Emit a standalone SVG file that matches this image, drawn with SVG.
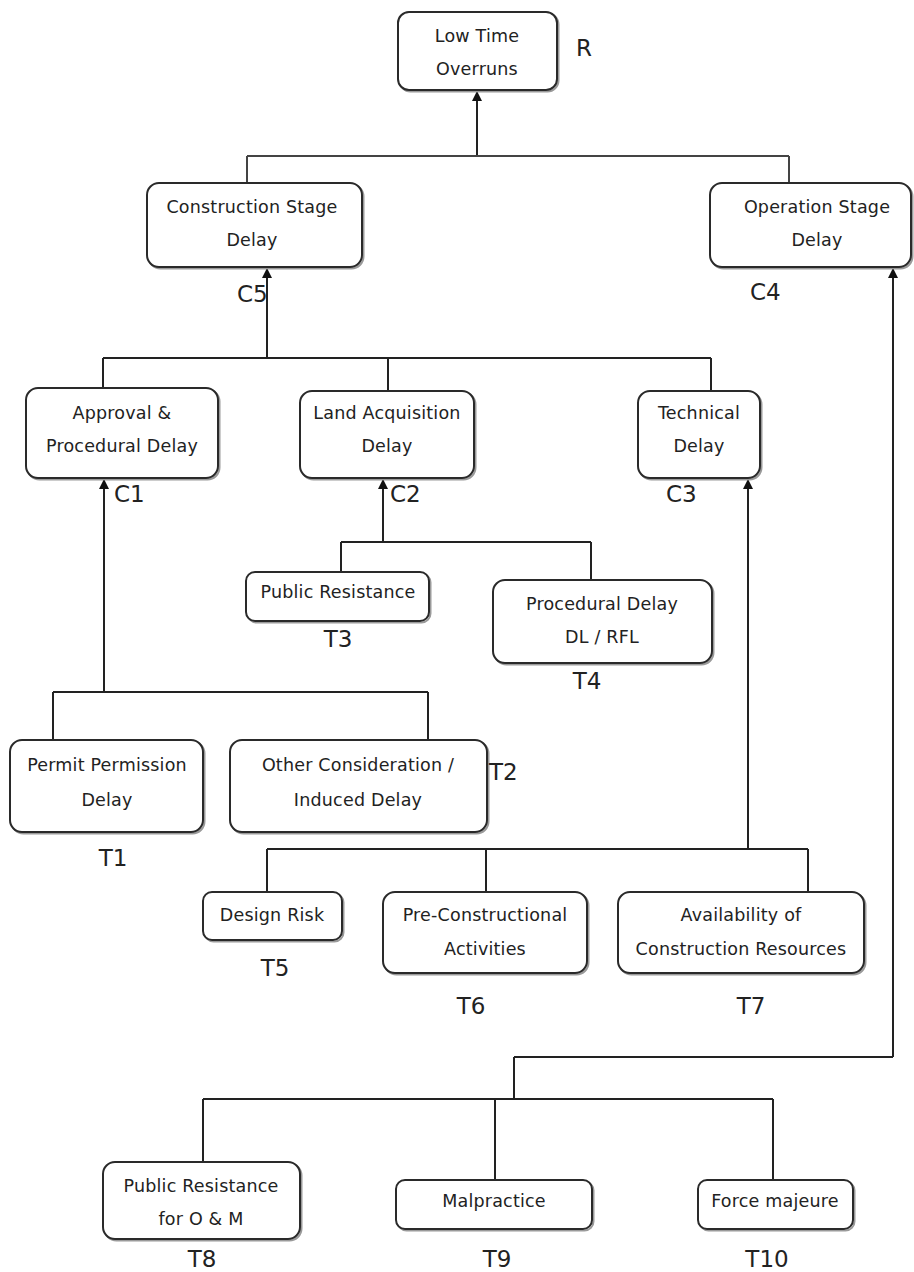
<svg xmlns="http://www.w3.org/2000/svg" width="914" height="1272" viewBox="0 0 914 1272">
  <style>
    .box { fill: #ffffff; stroke: #2a2a2a; stroke-width: 2; }
    .shadow { fill: none; stroke: #9a9a9a; stroke-width: 2; }
    .txt { font-family: "DejaVu Sans", Verdana, sans-serif; font-size: 17.5px; fill: #222; text-anchor: middle; letter-spacing: 0.2px; }
    .lbl { font-family: "DejaVu Sans", Verdana, sans-serif; font-size: 23px; fill: #222; }
    .lblc { font-family: "DejaVu Sans", Verdana, sans-serif; font-size: 23px; fill: #222; text-anchor: middle; }
    .ln { fill: none; stroke: #222; stroke-width: 2; }
    .arr { fill: none; stroke: #222; stroke-width: 2; marker-end: url(#head); }
  </style>
  <defs>
    <marker id="head" viewBox="0 0 10 10" refX="10" refY="5" markerWidth="6" markerHeight="5" orient="auto" markerUnits="strokeWidth">
      <path d="M0,0 L10,5 L0,10 z" fill="#111"/>
    </marker>
  </defs>
  <rect width="914" height="1272" fill="#ffffff"/>

  <!-- connectors -->
  <g id="connectors">
    <path class="arr" d="M477,156 V91"/>
    <path class="ln" d="M247,156 H789 M247,156 V183 M789,156 V183" stroke-width="3" style="stroke:#444"/>

    <path class="arr" d="M267,358 V268"/>
    <path class="ln" d="M103,358 H711 M103,358 V388 M388,358 V391 M711,358 V391"/>

    <path class="arr" d="M104,692 V479"/>
    <path class="ln" d="M53,692 H428 M53,692 V740 M428,692 V740"/>

    <path class="arr" d="M383,542 V479"/>
    <path class="ln" d="M341,542 H591 M341,542 V572 M591,542 V580"/>

    <path class="arr" d="M748,849 V479"/>
    <path class="ln" d="M267,849 H808 M267,849 V892 M486,849 V892 M808,849 V892"/>

    <path class="arr" d="M893,1057 V268"/>
    <path class="ln" d="M514,1057 H893 M514,1057 V1099 M203,1099 H773 M203,1099 V1162 M495,1099 V1180 M773,1099 V1180"/>
  </g>

  <!-- R -->
  <g id="node-R">
    <rect class="shadow" x="399.5" y="13.5" width="159" height="78" rx="11"/>
    <rect class="box" x="398" y="12" width="159" height="78" rx="11"/>
    <text class="txt" x="477" y="42">Low Time</text>
    <text class="txt" x="477" y="75">Overruns</text>
    <text class="lbl" x="576" y="56" font-size="20">R</text>
  </g>

  <!-- C5 -->
  <g id="node-C5">
    <rect class="shadow" x="148.5" y="184.5" width="215" height="84" rx="12"/>
    <rect class="box" x="147" y="183" width="215" height="84" rx="12"/>
    <text class="txt" x="252" y="213">Construction Stage</text>
    <text class="txt" x="252" y="246">Delay</text>
    <text class="lbl" x="237" y="302">C5</text>
  </g>

  <!-- C4 -->
  <g id="node-C4">
    <rect class="shadow" x="711.5" y="184.5" width="201" height="84" rx="12"/>
    <rect class="box" x="710" y="183" width="201" height="84" rx="12"/>
    <text class="txt" x="817" y="213">Operation Stage</text>
    <text class="txt" x="817" y="246">Delay</text>
    <text class="lbl" x="750" y="300">C4</text>
  </g>

  <!-- C1 -->
  <g id="node-C1">
    <rect class="shadow" x="27.5" y="389.5" width="192" height="90" rx="12"/>
    <rect class="box" x="26" y="388" width="192" height="90" rx="12"/>
    <text class="txt" x="122" y="419">Approval &amp;</text>
    <text class="txt" x="122" y="452">Procedural Delay</text>
    <text class="lbl" x="114" y="502">C1</text>
  </g>

  <!-- C2 -->
  <g id="node-C2">
    <rect class="shadow" x="301.5" y="392.5" width="174" height="87" rx="12"/>
    <rect class="box" x="300" y="391" width="174" height="87" rx="12"/>
    <text class="txt" x="387" y="419">Land Acquisition</text>
    <text class="txt" x="387" y="452">Delay</text>
    <text class="lbl" x="390" y="502">C2</text>
  </g>

  <!-- C3 -->
  <g id="node-C3">
    <rect class="shadow" x="639.5" y="392.5" width="122" height="87" rx="12"/>
    <rect class="box" x="638" y="391" width="122" height="87" rx="12"/>
    <text class="txt" x="699" y="419">Technical</text>
    <text class="txt" x="699" y="452">Delay</text>
    <text class="lbl" x="666" y="502">C3</text>
  </g>

  <!-- T3 -->
  <g id="node-T3">
    <rect class="shadow" x="247.5" y="573.5" width="183" height="49" rx="9"/>
    <rect class="box" x="246" y="572" width="183" height="49" rx="9"/>
    <text class="txt" x="338" y="598">Public Resistance</text>
    <text class="lblc" x="338" y="647">T3</text>
  </g>

  <!-- T4 -->
  <g id="node-T4">
    <rect class="shadow" x="494.5" y="581.5" width="219" height="83" rx="12"/>
    <rect class="box" x="493" y="580" width="219" height="83" rx="12"/>
    <text class="txt" x="602" y="610">Procedural Delay</text>
    <text class="txt" x="602" y="643">DL / RFL</text>
    <text class="lblc" x="587" y="689">T4</text>
  </g>

  <!-- T1 -->
  <g id="node-T1">
    <rect class="shadow" x="11.5" y="741.5" width="193" height="92" rx="12"/>
    <rect class="box" x="10" y="740" width="193" height="92" rx="12"/>
    <text class="txt" x="107" y="771">Permit Permission</text>
    <text class="txt" x="107" y="806">Delay</text>
    <text class="lblc" x="113" y="866">T1</text>
  </g>

  <!-- T2 -->
  <g id="node-T2">
    <rect class="shadow" x="231.5" y="741.5" width="257" height="92" rx="12"/>
    <rect class="box" x="230" y="740" width="257" height="92" rx="12"/>
    <text class="txt" x="358" y="771">Other Consideration  /</text>
    <text class="txt" x="358" y="806">Induced Delay</text>
    <text class="lbl" x="489" y="780">T2</text>
  </g>

  <!-- T5 -->
  <g id="node-T5">
    <rect class="shadow" x="204.5" y="893.5" width="139" height="48" rx="9"/>
    <rect class="box" x="203" y="892" width="139" height="48" rx="9"/>
    <text class="txt" x="272" y="921">Design Risk</text>
    <text class="lblc" x="275" y="976">T5</text>
  </g>

  <!-- T6 -->
  <g id="node-T6">
    <rect class="shadow" x="384.5" y="893.5" width="204" height="81" rx="12"/>
    <rect class="box" x="383" y="892" width="204" height="81" rx="12"/>
    <text class="txt" x="485" y="921">Pre-Constructional</text>
    <text class="txt" x="485" y="955">Activities</text>
    <text class="lblc" x="471" y="1014">T6</text>
  </g>

  <!-- T7 -->
  <g id="node-T7">
    <rect class="shadow" x="619.5" y="893.5" width="246" height="81" rx="12"/>
    <rect class="box" x="618" y="892" width="246" height="81" rx="12"/>
    <text class="txt" x="741" y="921">Availability  of</text>
    <text class="txt" x="741" y="955">Construction Resources</text>
    <text class="lblc" x="751" y="1014">T7</text>
  </g>

  <!-- T8 -->
  <g id="node-T8">
    <rect class="shadow" x="104.5" y="1163.5" width="197" height="77" rx="12"/>
    <rect class="box" x="103" y="1162" width="197" height="77" rx="12"/>
    <text class="txt" x="201" y="1192">Public Resistance</text>
    <text class="txt" x="201" y="1225">for O &amp; M</text>
    <text class="lblc" x="202" y="1267">T8</text>
  </g>

  <!-- T9 -->
  <g id="node-T9">
    <rect class="shadow" x="397.5" y="1181.5" width="196" height="49" rx="9"/>
    <rect class="box" x="396" y="1180" width="196" height="49" rx="9"/>
    <text class="txt" x="494" y="1207">Malpractice</text>
    <text class="lblc" x="497" y="1267">T9</text>
  </g>

  <!-- T10 -->
  <g id="node-T10">
    <rect class="shadow" x="699.5" y="1181.5" width="155" height="49" rx="9"/>
    <rect class="box" x="698" y="1180" width="155" height="49" rx="9"/>
    <text class="txt" x="775" y="1207">Force majeure</text>
    <text class="lblc" x="767" y="1267">T10</text>
  </g>
</svg>
